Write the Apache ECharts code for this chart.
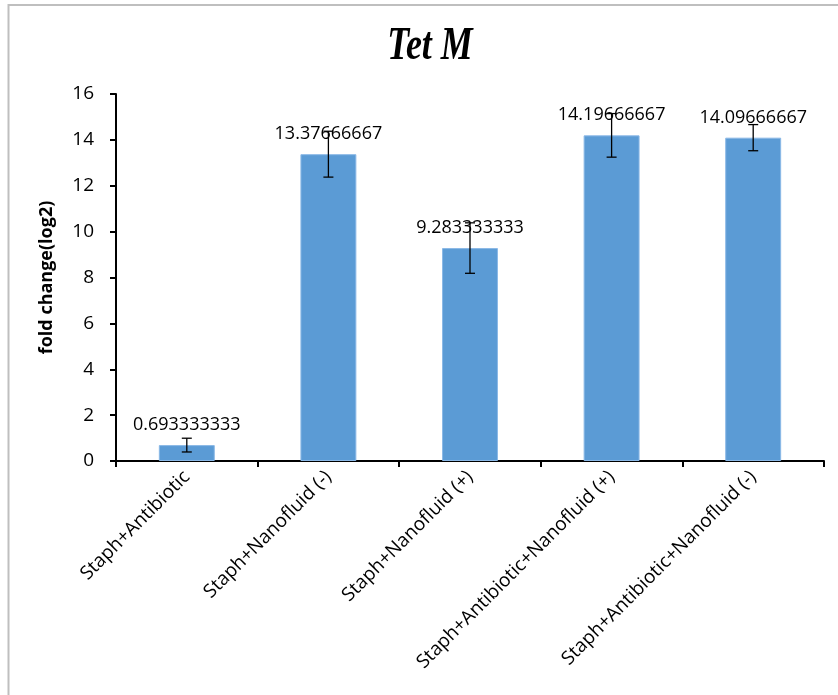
<!DOCTYPE html>
<html>
<head>
<meta charset="utf-8">
<script src="https://cdn.jsdelivr.net/npm/echarts@6/dist/echarts.min.js"></script>
<style>
html,body{margin:0;padding:0;background:#fff;}
#chart{width:838px;height:695px;}
</style>
</head>
<body>
<div id="chart"></div>
<script>
var categories = ['Staph+Antibiotic', 'Staph+Nanofluid (-)', 'Staph+Nanofluid (+)', 'Staph+Antibiotic+Nanofluid (+)', 'Staph+Antibiotic+Nanofluid (-)'];
var values = [0.693333333, 13.37666667, 9.283333333, 14.19666667, 14.09666667];
var valueLabels = ['0.693333333', '13.37666667', '9.283333333', '14.19666667', '14.09666667'];
var errors = [0.3, 1.0, 1.1, 0.95, 0.57];
var yTicks = [0, 2, 4, 6, 8, 10, 12, 14, 16];

var chart = echarts.init(document.getElementById('chart'));
var errData = values.map(function (v, i) { return [i, v - errors[i], v + errors[i]]; });

chart.setOption({
  animation: false,
  backgroundColor: '#fff',
  graphic: [
    { type: 'rect', shape: { x: 8.5, y: 5, width: 900, height: 800 }, style: { fill: 'none', stroke: '#bfbfbf', lineWidth: 2 }, silent: true },
    { type: 'text', x: 430, y: 47, scaleX: 0.78, style: { text: 'Tet M', font: 'italic bold 46px "Liberation Serif"', fill: '#000', align: 'center', verticalAlign: 'middle' } }
  ],
  grid: { left: 116, right: 14, top: 94, bottom: 234, containLabel: false },
  xAxis: {
    type: 'category',
    data: categories,
    axisLine: { lineStyle: { color: '#000', width: 2 } },
    axisTick: { show: true, alignWithLabel: false, length: 6, lineStyle: { color: '#000', width: 2 } },
    axisLabel: { rotate: 45, interval: 0, margin: 13, fontFamily: 'Open Sans', fontSize: 19, color: '#000' }
  },
  yAxis: {
    type: 'value',
    min: 0, max: 16, interval: 2,
    name: 'fold change(log2)',
    nameLocation: 'middle',
    nameGap: 60,
    nameTextStyle: { fontFamily: 'Open Sans', fontWeight: 'bold', fontSize: 18, color: '#000' },
    axisLine: { show: true, lineStyle: { color: '#000', width: 2 } },
    axisTick: { show: true, length: 6, lineStyle: { color: '#000', width: 2 } },
    splitLine: { show: false },
    axisLabel: { margin: 22, fontFamily: 'Open Sans', fontSize: 19, color: '#000',
      formatter: function (v) { return yTicks.indexOf(v) >= 0 ? String(v) : ''; } }
  },
  series: [
    {
      type: 'bar',
      data: values,
      barWidth: '39.5%',
      itemStyle: { color: '#5b9bd5', borderColor: '#8ab8e6', borderWidth: 1 },
      label: {
        show: true, position: 'top', distance: 11,
        fontFamily: 'Open Sans', fontSize: 18, color: '#000',
        formatter: function (p) { return valueLabels[p.dataIndex]; }
      },
      z: 2
    },
    {
      type: 'custom',
      data: errData,
      z: 5,
      renderItem: function (params, api) {
        var x = api.value(0);
        var lo = api.coord([x, api.value(1)]);
        var hi = api.coord([x, api.value(2)]);
        var cap = 5;
        var st = { stroke: '#000', lineWidth: 1.3 };
        return {
          type: 'group',
          children: [
            { type: 'line', shape: { x1: lo[0], y1: lo[1], x2: hi[0], y2: hi[1] }, style: st },
            { type: 'line', shape: { x1: lo[0] - cap, y1: lo[1], x2: lo[0] + cap, y2: lo[1] }, style: st },
            { type: 'line', shape: { x1: hi[0] - cap, y1: hi[1], x2: hi[0] + cap, y2: hi[1] }, style: st }
          ]
        };
      }
    }
  ]
});
</script>
</body>
</html>
